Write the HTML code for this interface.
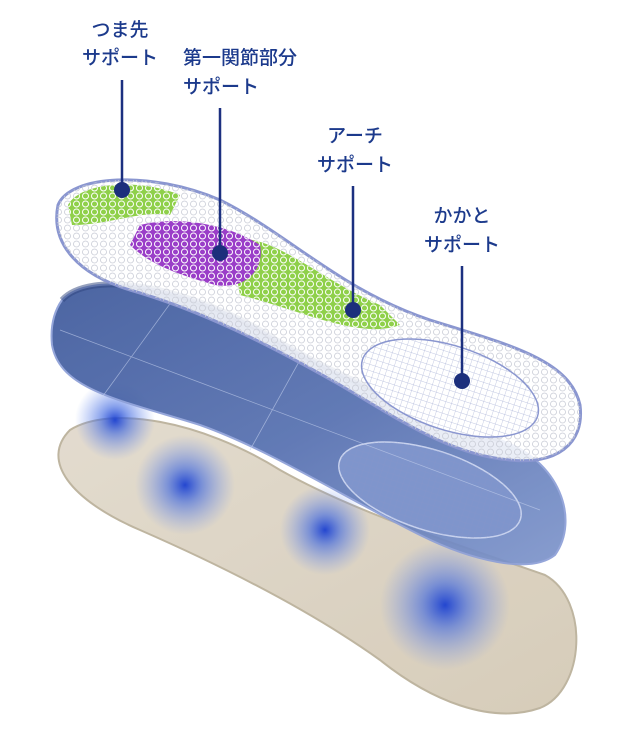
<!DOCTYPE html>
<html><head><meta charset="utf-8"><style>
html,body{margin:0;padding:0;background:#fff;}
svg{display:block}
text{font-family:"Liberation Sans","Noto Sans CJK JP",sans-serif;fill:#1c3a8c;font-size:19px;font-weight:500}
</style></head><body>
<svg width="640" height="733" viewBox="0 0 640 733" xmlns="http://www.w3.org/2000/svg">
<defs>
<radialGradient id="dot" cx="50%" cy="50%" r="50%">
<stop offset="0" stop-color="#1a3fd0" stop-opacity="0.95"/>
<stop offset="0.35" stop-color="#3a64e0" stop-opacity="0.6"/>
<stop offset="1" stop-color="#6a8ef0" stop-opacity="0"/>
</radialGradient>
<linearGradient id="blue" x1="0" y1="0" x2="1" y2="1">
<stop offset="0" stop-color="#3f5a9c"/>
<stop offset="0.5" stop-color="#5670b0"/>
<stop offset="1" stop-color="#7f96cc"/>
</linearGradient>
<linearGradient id="beige" x1="0" y1="0" x2="1" y2="1">
<stop offset="0" stop-color="#e0d8ca"/>
<stop offset="1" stop-color="#d2c7b2"/>
</linearGradient>
<pattern id="hex" width="9" height="8" patternUnits="userSpaceOnUse">
<circle cx="4.5" cy="4" r="3" fill="none" stroke="#fff" stroke-width="1"/>
</pattern>
<pattern id="grid" width="6" height="6" patternUnits="userSpaceOnUse">
<path d="M0 0H6M0 0V6" stroke="#8a96c8" stroke-width="0.7" fill="none"/>
</pattern>
<pattern id="lgrid" width="9" height="8" patternUnits="userSpaceOnUse">
<circle cx="4.5" cy="4" r="3" fill="none" stroke="#c9ccd6" stroke-width="0.8"/>
</pattern>
</defs>

<path d="M70 430 C110 405 200 420 280 470 C360 515 460 545 545 575 C590 600 585 690 540 708 C490 725 430 700 380 660 C310 610 220 565 140 530 C70 500 40 460 70 430 Z" fill="url(#beige)" stroke="#b8ad96" stroke-width="2" opacity="0.9"/>
<circle cx="115" cy="420" r="40" fill="url(#dot)"/>
<circle cx="185" cy="485" r="50" fill="url(#dot)"/>
<circle cx="325" cy="530" r="45" fill="url(#dot)"/>
<circle cx="445" cy="605" r="65" fill="url(#dot)"/>

<path d="M62 300 C90 270 180 285 260 330 C330 375 420 410 500 440 C560 460 580 520 555 555 C530 575 470 560 420 535 C340 495 270 450 200 425 C120 400 60 390 52 345 C50 325 55 310 62 300 Z" fill="url(#blue)" stroke="#8ea0d8" stroke-width="2" opacity="0.93"/>
<path d="M62 300 C90 270 180 285 260 330 C330 375 420 410 500 440" fill="none" stroke="#2e447e" stroke-width="6" opacity="0.5"/>
<ellipse cx="430" cy="490" rx="95" ry="40" transform="rotate(18 430 490)" fill="#7f95cc" stroke="#c8d2ee" stroke-width="1.5"/>
<ellipse cx="430" cy="490" rx="95" ry="40" transform="rotate(18 430 490)" fill="url(#grid)" opacity="0.5"/>
<path d="M60 330 L540 510 M180 290 L100 400 M300 360 L250 450" stroke="#c8d4f0" stroke-width="0.8" opacity="0.6"/>

<path d="M58 205 C70 175 150 170 220 200 C290 235 340 290 430 320 C510 345 570 360 580 405 C585 445 555 465 510 460 C450 455 400 420 340 385 C270 345 200 310 130 290 C80 275 50 245 58 205 Z" fill="#fff" fill-opacity="0.85" stroke="#8a96d0" stroke-width="3"/>
<path d="M58 205 C70 175 150 170 220 200 C290 235 340 290 430 320 C510 345 570 360 580 405 C585 445 555 465 510 460 C450 455 400 420 340 385 C270 345 200 310 130 290 C80 275 50 245 58 205 Z" fill="url(#lgrid)"/>
<path d="M68 205 C80 182 140 178 180 195 L170 215 C140 210 110 225 72 225 Z" fill="#8fd04a"/>
<path d="M68 205 C80 182 140 178 180 195 L170 215 C140 210 110 225 72 225 Z" fill="url(#hex)"/>
<path d="M230 240 C270 230 320 280 380 305 L400 325 C360 340 300 310 240 295 Z" fill="#8fd04a"/>
<path d="M230 240 C270 230 320 280 380 305 L400 325 C360 340 300 310 240 295 Z" fill="url(#hex)"/>
<path d="M140 225 C180 215 230 225 260 245 C265 270 245 290 215 285 C180 275 150 265 130 245 Z" fill="#9a3ec8"/>
<path d="M140 225 C180 215 230 225 260 245 C265 270 245 290 215 285 C180 275 150 265 130 245 Z" fill="url(#hex)"/>
<ellipse cx="450" cy="388" rx="92" ry="42" transform="rotate(18 450 388)" fill="#fff" stroke="#8a96d0" stroke-width="1.5"/>
<ellipse cx="450" cy="388" rx="92" ry="42" transform="rotate(18 450 388)" fill="url(#grid)" opacity="0.7"/>

<g stroke="#1c3080" stroke-width="2.5">
<line x1="122" y1="80" x2="122" y2="190"/>
<line x1="220" y1="108" x2="220" y2="253"/>
<line x1="353" y1="186" x2="353" y2="310"/>
<line x1="462" y1="266" x2="462" y2="381"/>
</g>
<g fill="#1c2f7c">
<circle cx="122" cy="190" r="8"/>
<circle cx="220" cy="253" r="8"/>
<circle cx="353" cy="310" r="8"/>
<circle cx="462" cy="381" r="8"/>
</g>

<text x="120" y="36" text-anchor="middle">つま先</text>
<text x="120" y="64" text-anchor="middle">サポート</text>
<text x="183" y="64">第一関節部分</text>
<text x="183" y="93">サポート</text>
<text x="355" y="142" text-anchor="middle">アーチ</text>
<text x="355" y="171" text-anchor="middle">サポート</text>
<text x="462" y="222" text-anchor="middle">かかと</text>
<text x="462" y="251" text-anchor="middle">サポート</text>
</svg>
</body></html>
